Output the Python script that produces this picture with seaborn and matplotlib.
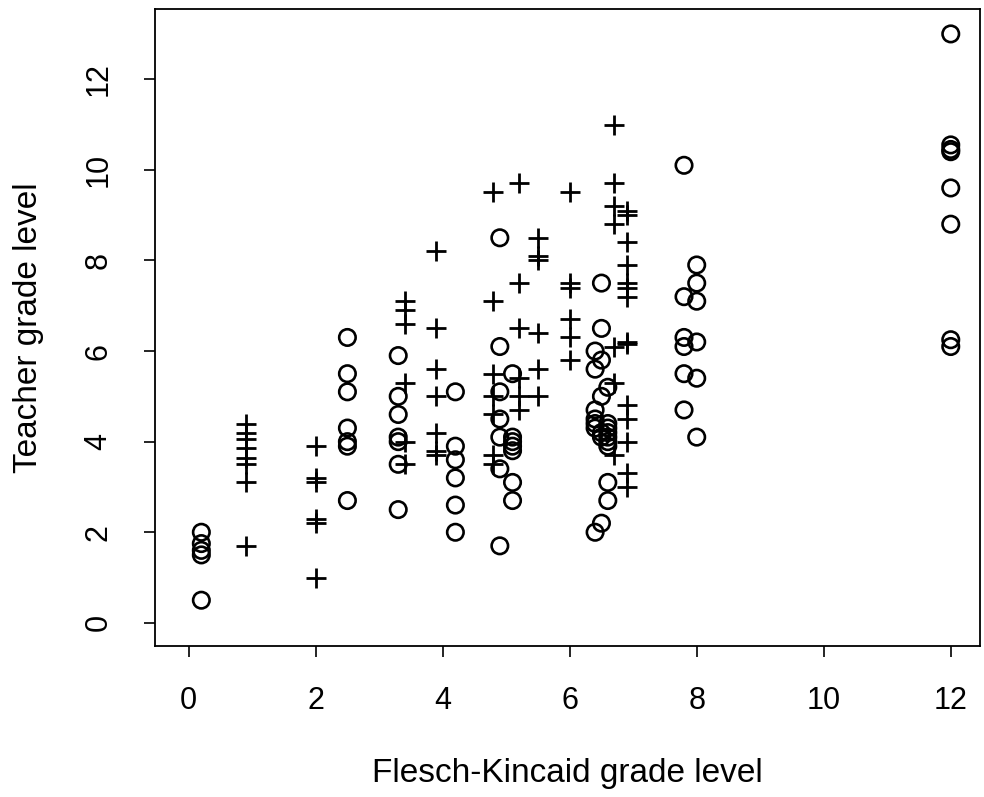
import pandas as pd
import matplotlib
matplotlib.use('Agg')
import matplotlib.pyplot as plt
import seaborn as sns

# circles ("o" group): Flesch-Kincaid level -> teacher levels
circle_fk = [0.2, 2.5, 3.3, 4.2, 4.9, 5.1, 6.4, 6.5, 6.6, 7.8, 8.0, 12.0]
circle_teacher = [
    [2.0, 1.75, 1.6, 1.5, 0.5],
    [6.3, 5.5, 5.1, 4.3, 4.0, 3.9, 2.7],
    [5.9, 5.0, 4.6, 4.1, 4.0, 3.5, 2.5],
    [5.1, 3.9, 3.6, 3.2, 2.6, 2.0],
    [8.5, 6.1, 5.1, 4.5, 4.1, 3.4, 1.7],
    [5.5, 4.1, 4.0, 3.9, 3.8, 3.1, 2.7],
    [6.0, 5.6, 4.7, 4.5, 4.4, 4.3, 2.0],
    [7.5, 6.5, 5.8, 5.0, 4.2, 4.1, 2.2],
    [5.2, 4.4, 4.3, 4.2, 4.1, 4.0, 3.9, 3.1, 2.7],
    [10.1, 7.2, 6.3, 6.1, 5.5, 4.7],
    [7.9, 7.5, 7.1, 6.2, 5.4, 4.1],
    [13.0, 10.55, 10.45, 10.4, 9.6, 8.8, 6.25, 6.1],
]

# pluses ("+" group)
plus_fk = [0.9, 2.0, 3.4, 3.9, 4.8, 5.2, 5.5, 6.0, 6.7, 6.9]
plus_teacher = [
    [4.4, 4.2, 4.05, 3.85, 3.65, 3.5, 3.1, 1.7],
    [3.9, 3.2, 3.1, 2.3, 2.2, 1.0],
    [7.1, 6.9, 6.6, 5.3, 4.0, 3.5],
    [8.2, 6.5, 5.6, 5.0, 4.2, 3.8, 3.7],
    [9.5, 7.1, 5.5, 5.0, 4.6, 3.7, 3.5],
    [9.7, 7.5, 6.5, 5.4, 5.0, 4.7],
    [8.5, 8.1, 8.0, 6.4, 5.6, 5.0],
    [9.5, 7.5, 7.4, 6.7, 6.3, 5.8],
    [11.0, 9.7, 9.2, 8.8, 6.1, 5.3, 3.7],
    [9.1, 9.0, 8.4, 7.9, 7.5, 7.4, 7.2, 6.2, 6.15, 4.8, 4.5, 4.0, 3.3, 3.0],
]


def to_frame(xs, ys):
    rows = []
    for x, col in zip(xs, ys):
        for y in col:
            rows.append((x, y))
    return pd.DataFrame(rows, columns=['fk', 'teacher'])


circles = to_frame(circle_fk, circle_teacher)
pluses = to_frame(plus_fk, plus_teacher)

sns.set_style('white')
plt.rcParams['font.family'] = ['Liberation Sans', 'DejaVu Sans']
plt.rcParams['text.color'] = 'black'
plt.rcParams['axes.labelcolor'] = 'black'
plt.rcParams['xtick.color'] = 'black'
plt.rcParams['ytick.color'] = 'black'

fig = plt.figure(figsize=(9.84, 7.97), dpi=100)
ax = fig.add_axes([0.1575, 0.1895, 0.8384, 0.7992])

sns.scatterplot(data=circles, x='fk', y='teacher', ax=ax, marker='o', s=140,
                facecolors='none', edgecolor='black', linewidth=1.9)
sns.scatterplot(data=pluses, x='fk', y='teacher', ax=ax, marker='+', s=210,
                color='black', linewidth=2.0)

ax.set_xlim(-0.53, 12.46)
ax.set_ylim(-0.51, 13.55)
ax.set_xticks([0, 2, 4, 6, 8, 10, 12])
ax.set_yticks([0, 2, 4, 6, 8, 10, 12])
ax.tick_params(axis='both', direction='out', length=8, width=1.2,
               labelsize=22, colors='black', bottom=True, left=True)
ax.tick_params(axis='x', pad=21)
ax.tick_params(axis='y', pad=22)
for lab in ax.get_yticklabels():
    lab.set_rotation(90)
    lab.set_va('center')

for sp in ax.spines.values():
    sp.set_color('black')
    sp.set_linewidth(1.3)

ax.set_xlabel('Flesch-Kincaid grade level', fontsize=24, labelpad=30)
ax.set_ylabel('Teacher grade level', fontsize=24, labelpad=28)

fig.savefig('out.png', dpi=100)
